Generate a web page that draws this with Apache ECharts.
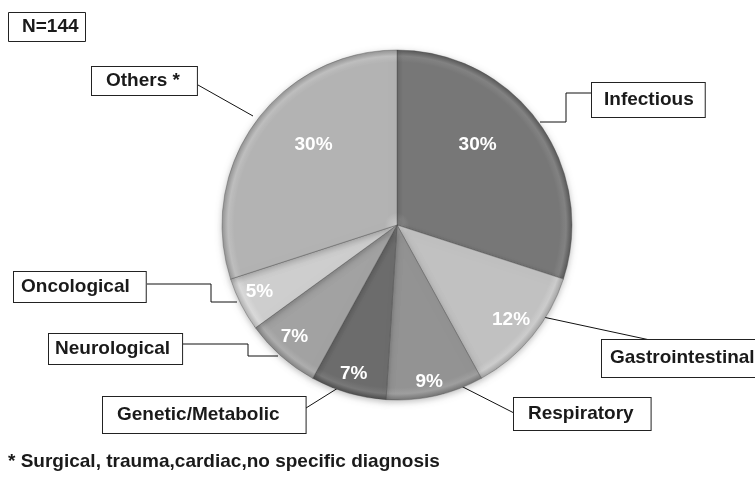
<!DOCTYPE html>
<html>
<head>
<meta charset="utf-8">
<script src="https://cdn.jsdelivr.net/npm/echarts@6/dist/echarts.min.js"></script>
<style>
  html, body { margin: 0; padding: 0; background: #fff; }
  #pie { width: 755px; height: 486px; }
</style>
</head>
<body>
<div id="pie"></div>
<script>
var categories = ['Infectious', 'Gastrointestinal', 'Respiratory', 'Genetic/Metabolic', 'Neurological', 'Oncological', 'Others *'];
var percents = [30, 12, 9, 7, 7, 5, 30];
var sampleLabel = 'N=144';
var footnote = '* Surgical, trauma,cardiac,no specific diagnosis';

var greys = ['#777777', '#c1c1c1', '#939393', '#6c6c6c', '#a2a2a2', '#cecece', '#b3b3b3'];

var CX = 397, CY = 225, R = 175;
var FONT = "'Liberation Sans', Arial, sans-serif";

// name boxes: top-left corner, padding, leader line
var boxes = [
  { x: 592, y: 83,  pad: [7, 11, 7, 12], line: [[540, 122], [566, 122], [566, 93], [592, 93]] },
  { x: 602, y: 340, pad: [8, 10, 9, 8],  line: [[543, 317], [650, 340]] },
  { x: 514, y: 398, pad: [6, 17, 6, 14], line: [[457, 384], [514, 413]] },
  { x: 103, y: 397, pad: [8, 26, 8, 14], line: [[338, 388], [306, 408]] },
  { x: 49,  y: 334, pad: [5, 12, 5, 6],  line: [[278, 356], [248, 356], [248, 344], [182, 344]] },
  { x: 14,  y: 272, pad: [5, 16, 5, 7],  line: [[237, 302], [211, 302], [211, 284], [147, 284]] },
  { x: 92,  y: 67,  pad: [4, 17, 4, 14], line: [[253, 116], [198, 85]] }
];
// percent labels: distance from centre, angle nudge in degrees
var pctPlace = [[114, -9], [148, 0], [160, 1], [155, 0], [152, 1], [153, 1], [116, 8]];

function shade(hex, d) {
    var n = parseInt(hex.slice(1), 16);
    var c = [(n >> 16) & 255, (n >> 8) & 255, n & 255].map(function (v) {
        return Math.max(0, Math.min(255, v + d));
    });
    return 'rgb(' + c.join(',') + ')';
}

function sliceFill(hex) {
    return {
        type: 'radial', x: CX, y: CY, r: R, global: true,
        colorStops: [
            { offset: 0, color: shade(hex, 25) },
            { offset: 0.07, color: hex },
            { offset: 0.93, color: hex },
            { offset: 0.965, color: shade(hex, 12) },
            { offset: 1, color: shade(hex, -30) }
        ]
    };
}

var pieData = categories.map(function (name, i) {
    return { name: name, value: percents[i], itemStyle: { color: sliceFill(greys[i]) } };
});

var boxData = categories.map(function (name, i) {
    return { name: name, value: percents[i], label: { padding: boxes[i].pad } };
});

var chart = echarts.init(document.getElementById('pie'));
var option = {
    animation: false,
    title: [
        {
            text: sampleLabel, left: 8, top: 12,
            borderColor: '#222', borderWidth: 1, padding: [5, 7, 5, 14],
            textStyle: { fontFamily: FONT, fontSize: 19, fontWeight: 'bold', color: '#1a1a1a', lineHeight: 20 }
        },
        {
            text: footnote, left: 8, top: 452, padding: 0,
            textStyle: { fontFamily: FONT, fontSize: 19, fontWeight: 'bold', color: '#1a1a1a', lineHeight: 20 }
        }
    ],
    series: [
        {
            type: 'pie',
            center: [CX, CY],
            radius: [0, R],
            startAngle: 90,
            clockwise: true,
            silent: true,
            itemStyle: {
                borderColor: 'rgba(70,70,70,0.45)',
                borderWidth: 0.8,
                shadowBlur: 6,
                shadowOffsetY: 2,
                shadowColor: 'rgba(0,0,0,0.25)'
            },
            label: {
                show: true,
                position: 'inside',
                formatter: function (p) { return p.value + '%'; },
                color: '#fff',
                fontFamily: FONT,
                fontSize: 19,
                fontWeight: 'bold'
            },
            labelLayout: function (p) {
                var r = p.labelRect;
                var lx = r.x + r.width / 2, ly = r.y + r.height / 2;
                var pl = pctPlace[p.dataIndex];
                var a = Math.atan2(ly - CY, lx - CX) + pl[1] * Math.PI / 180;
                return {
                    x: CX + pl[0] * Math.cos(a),
                    y: CY + pl[0] * Math.sin(a),
                    align: 'center',
                    verticalAlign: 'middle'
                };
            },
            data: pieData
        },
        {
            type: 'pie',
            center: [CX, CY],
            radius: [0, R],
            startAngle: 90,
            clockwise: true,
            silent: true,
            avoidLabelOverlap: false,
            itemStyle: { color: 'rgba(0,0,0,0)', borderWidth: 0 },
            label: {
                show: true,
                position: 'outside',
                formatter: '{b}',
                color: '#1a1a1a',
                fontFamily: FONT,
                fontSize: 19,
                fontWeight: 'bold',
                lineHeight: 20,
                backgroundColor: '#fff',
                borderColor: '#222',
                borderWidth: 1
            },
            labelLine: {
                show: true,
                smooth: false,
                lineStyle: { color: '#111', width: 1 }
            },
            labelLayout: function (p) {
                var b = boxes[p.dataIndex];
                return {
                    x: b.x,
                    y: b.y,
                    align: 'left',
                    verticalAlign: 'top',
                    labelLinePoints: b.line
                };
            },
            data: boxData
        }
    ]
};
chart.setOption(option);
</script>
</body>
</html>
